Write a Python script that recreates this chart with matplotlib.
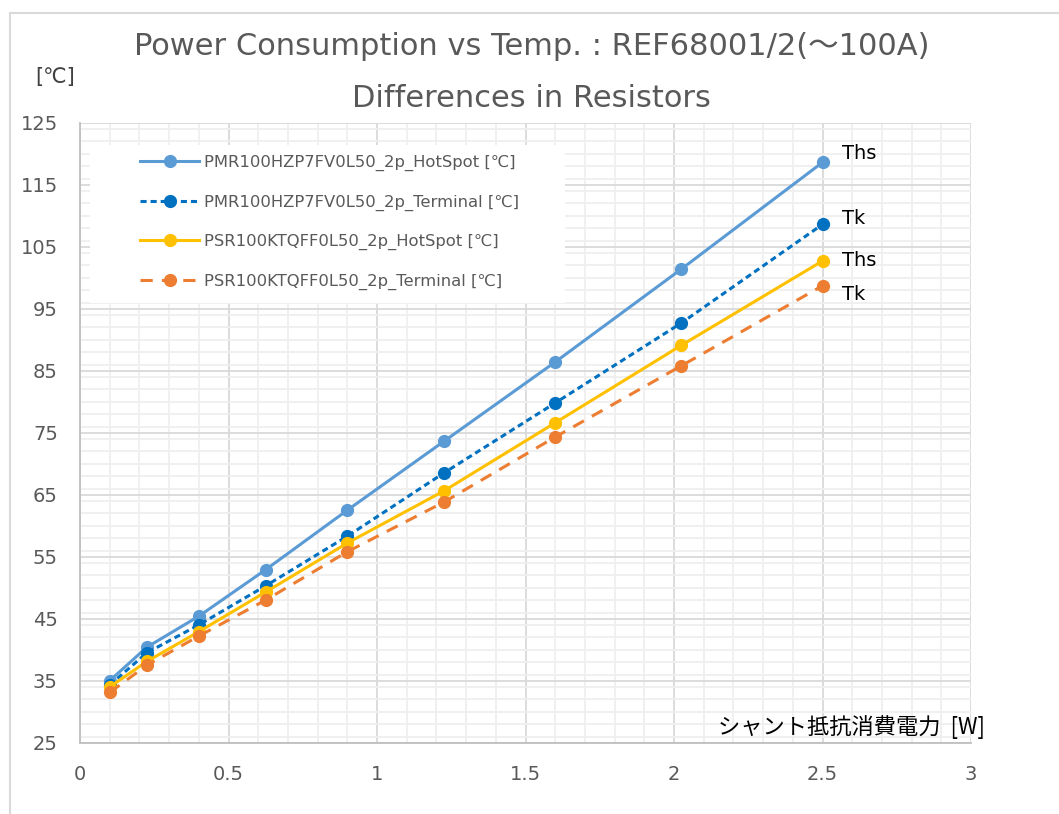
import matplotlib
matplotlib.use("Agg")
import matplotlib.pyplot as plt
from matplotlib.patches import Rectangle
from matplotlib.ticker import MultipleLocator

plt.rcParams['font.family'] = ['DejaVu Sans', 'Noto Sans CJK JP']

# shunt power [W] (10..50 A through 1 mOhm)
power = [0.1, 0.225, 0.4, 0.625, 0.9, 1.225, 1.6, 2.025, 2.5]

pmr_hotspot = [35.0, 40.4, 45.4, 52.9, 62.5, 73.6, 86.4, 101.4, 118.6]
pmr_terminal = [34.3, 39.5, 44.0, 50.3, 58.3, 68.5, 79.8, 92.7, 108.6]
psr_hotspot = [34.0, 38.1, 42.9, 49.3, 57.2, 65.6, 76.6, 89.1, 102.7]
psr_terminal = [33.1, 37.5, 42.2, 48.0, 55.8, 63.8, 74.3, 85.8, 98.7]

names = ['PMR100HZP7FV0L50_2p_HotSpot [℃]',
         'PMR100HZP7FV0L50_2p_Terminal [℃]',
         'PSR100KTQFF0L50_2p_HotSpot [℃]',
         'PSR100KTQFF0L50_2p_Terminal [℃]']
end_labels = ['Ths', 'Tk', 'Ths', 'Tk']

fig = plt.figure(figsize=(10.59, 8.14), dpi=100)
# outer chart frame
fig.patches.append(Rectangle((10/1059, -0.1), 1.2, 1 - 13/814 + 0.1,
                             transform=fig.transFigure, fill=False,
                             edgecolor='#D9D9D9', linewidth=1.5))

ax = fig.add_axes([80/1059, 1 - 742.7/814, 891/1059, 620/814])

styles = [
    dict(color='#5B9BD5', linestyle='-'),
    dict(color='#0070C0', linestyle=(0, (2.0, 1.3))),
    dict(color='#FFC000', linestyle='-'),
    dict(color='#ED7D31', linestyle=(0, (4.0, 3.0))),
]
series = [pmr_hotspot, pmr_terminal, psr_hotspot, psr_terminal]
for vals, nm, st in zip(series, names, styles):
    ax.plot(power, vals, marker='o', markersize=8.5, linewidth=2.2,
            label=nm, **st)

label_offsets = [(14, 6.5), (14, 4.3), (14, 0), (14, -6.5)]
for vals, lab, off in zip(series, end_labels, label_offsets):
    ax.annotate(lab, (power[-1], vals[-1]), xytext=off, textcoords='offset points',
                fontsize=14, color='black', va='center', ha='left')

ax.set_xlim(0, 3)
ax.set_ylim(25, 125)
ax.xaxis.set_major_locator(MultipleLocator(0.5))
ax.xaxis.set_minor_locator(MultipleLocator(0.1))
ax.yaxis.set_major_locator(MultipleLocator(10))
ax.yaxis.set_minor_locator(MultipleLocator(2))
ax.set_xticks([0, 0.5, 1, 1.5, 2, 2.5, 3])
ax.set_xticklabels(['0', '0.5', '1', '1.5', '2', '2.5', '3'])
ax.set_yticks(range(25, 126, 10))
ax.grid(which='major', color='#D9D9D9', linewidth=1.3)
ax.grid(which='minor', color='#EFEFEF', linewidth=1.3)
ax.set_axisbelow(True)
ax.tick_params(which='both', length=0, labelsize=14, colors='#595959')
ax.tick_params(axis='x', pad=16)
ax.tick_params(axis='y', pad=16)
for s in ['top', 'right']:
    ax.spines[s].set_visible(False)
for s in ['left', 'bottom']:
    ax.spines[s].set_color('#BFBFBF')
    ax.spines[s].set_linewidth(1.3)

# white legend panel
ax.add_patch(Rectangle((10/891, (742.7 - 303)/620), 475/891, 158/620,
                       transform=ax.transAxes, facecolor='white',
                       edgecolor='none', zorder=1.5))
leg = ax.legend(loc='upper left', bbox_to_anchor=(60/891, (742.7 - 155)/620),
                fontsize=11.8, frameon=False,
                handlelength=3.6, handletextpad=0.3, labelspacing=1.42,
                borderpad=0, borderaxespad=0, labelcolor='#595959')

fig.text(0.502, 0.943, 'Power Consumption vs Temp. : REF68001/2(～100A)',
         ha='center', va='center', fontsize=22, color='#595959')
fig.text(0.502, 0.879, 'Differences in Resistors',
         ha='center', va='center', fontsize=22, color='#595959')
fig.text(0.052, 0.906, '[℃]', ha='center', va='center', fontsize=15, color='#404040')
ax.text(1.016, 0.006, 'シャント抵抗消費電力  [W]', transform=ax.transAxes,
        ha='right', va='bottom', fontsize=16, color='black',
        family=['Noto Sans CJK JP', 'DejaVu Sans'])

fig.savefig('out.png', dpi=100)
